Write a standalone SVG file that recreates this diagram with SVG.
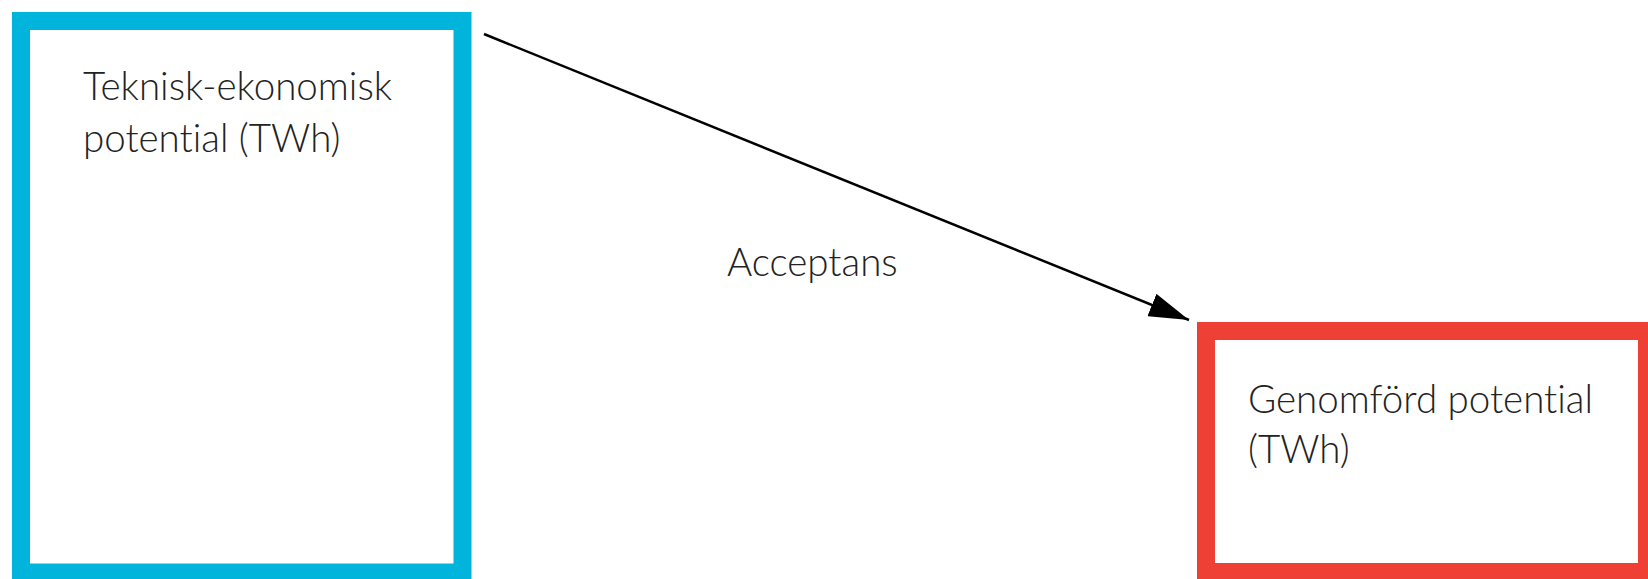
<svg xmlns="http://www.w3.org/2000/svg" width="1648" height="579" viewBox="0 0 1648 579">
<style>
.box{fill:#fff;stroke-width:18}
.t{font-family:Lato,"Liberation Sans",sans-serif;font-weight:300;font-size:38.5px;fill:#222;font-variant-ligatures:none;font-feature-settings:"liga" 0}
</style>
<defs>
<marker id="ah" markerUnits="userSpaceOnUse" markerWidth="40" markerHeight="24" refX="40" refY="12" orient="auto">
<path d="M0,0 L40,12 L0,24 Z" fill="#000"/>
</marker>
</defs>
<rect width="1648" height="579" fill="#fff"/>
<g id="teknisk">
<rect class="box" x="21" y="21" width="441.5" height="551.5" stroke="#00B4DC"/>
<text class="t" x="83" y="100">Teknisk-ekonomisk</text>
<text class="t" x="83" y="152">potential (TWh)</text>
</g>
<g id="genomford">
<rect class="box" x="1206" y="331" width="441" height="241" stroke="#EE4035"/>
<text class="t" x="1248" y="413">Genomförd potential</text>
<text class="t" x="1248" y="463">(TWh)</text>
</g>
<g id="connectors">
<line x1="484" y1="34" x2="1189" y2="320" stroke="#000" stroke-width="2.5" marker-end="url(#ah)"/>
<text class="t" x="727" y="276">Acceptans</text>
</g>
</svg>
